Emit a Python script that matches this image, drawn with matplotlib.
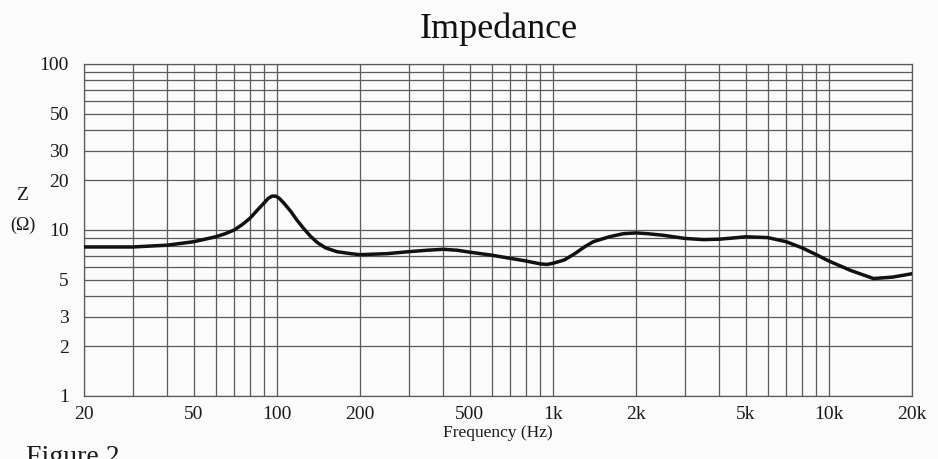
import matplotlib.pyplot as plt
from matplotlib.ticker import FixedLocator, NullFormatter

# impedance curve
freq = [20, 30, 40, 50, 60, 65, 70, 75, 80, 85, 90, 93, 96, 99, 102, 106, 112,
        118, 125, 132, 140, 150, 165, 185, 200, 250, 300, 350, 400, 450, 500,
        600, 700, 800, 900, 950, 1000, 1100, 1200, 1300, 1400, 1600, 1800,
        2000, 2200, 2500, 3000, 3500, 4000, 4500, 5000, 6000, 7000, 8000,
        9000, 10000, 12000, 14500, 17000, 20000]
imp = [7.9, 7.9, 8.1, 8.5, 9.1, 9.5, 10.0, 10.8, 11.8, 13.2, 14.6, 15.5, 16.0,
       16.0, 15.5, 14.5, 13.0, 11.5, 10.2, 9.2, 8.4, 7.8, 7.4, 7.2, 7.1, 7.2,
       7.4, 7.55, 7.65, 7.55, 7.35, 7.05, 6.75, 6.5, 6.25, 6.2, 6.3, 6.6, 7.2,
       7.9, 8.5, 9.1, 9.5, 9.6, 9.5, 9.3, 8.9, 8.75, 8.8, 8.95, 9.1, 9.0, 8.5,
       7.8, 7.1, 6.5, 5.7, 5.1, 5.2, 5.45]

xticks = [20, 50, 100, 200, 500, 1000, 2000, 5000, 10000, 20000]
xlabels = ['20', '50', '100', '200', '500', '1k', '2k', '5k', '10k', '20k']
yticks = [1, 2, 3, 5, 10, 20, 30, 50, 100]
ylabels = ['1', '2', '3', '5', '10', '20', '30', '50', '100']

xgrid = [m * d for d in (10, 100, 1000, 10000) for m in range(1, 10)
         if 20 <= m * d <= 20000]
ygrid = [m * d for d in (1, 10) for m in range(1, 10)] + [100]

plt.rcParams['font.family'] = 'Liberation Serif'
bg = '#fbfbfb'
grid_c = '#5a5a5a'

fig = plt.figure(figsize=(9.38, 4.59), dpi=100, facecolor=bg)
ax = fig.add_axes([0.0896, 0.1373, 0.8827, 0.7233], facecolor=bg)

ax.set_xscale('log')
ax.set_yscale('log')
ax.set_xlim(20, 20000)
ax.set_ylim(1, 100)

for f in xgrid:
    ax.axvline(f, color=grid_c, lw=0.9, zorder=1)
for z in ygrid:
    ax.axhline(z, color=grid_c, lw=0.9, zorder=1)

ax.plot(freq, imp, color='#111111', lw=2.5, solid_joinstyle='round',
        solid_capstyle='round', zorder=3)

ax.xaxis.set_major_locator(FixedLocator(xticks))
ax.xaxis.set_minor_locator(FixedLocator([]))
ax.xaxis.set_minor_formatter(NullFormatter())
ax.set_xticks(xticks, xlabels)
ax.yaxis.set_major_locator(FixedLocator(yticks))
ax.yaxis.set_minor_locator(FixedLocator([]))
ax.yaxis.set_minor_formatter(NullFormatter())
ax.set_yticks(yticks, ylabels)
ax.tick_params(axis='both', length=0, labelsize=14, colors='#1a1a1a')
ax.tick_params(axis='y', pad=11)
ax.tick_params(axis='x', pad=7)

for s in ax.spines.values():
    s.set_color(grid_c)
    s.set_linewidth(0.9)

ax.set_xlabel('Frequency (Hz)', fontsize=12.5, labelpad=2, color='#1a1a1a')
fig.text(0.024, 0.575, 'Z', fontsize=14, ha='center', va='center', color='#1a1a1a')
fig.text(0.024, 0.51, '(\u03a9)', fontsize=13, ha='center', va='center', color='#1a1a1a')

fig.text(0.532, 0.972, 'Impedance', fontsize=26, ha='center', va='top', color='#111111')
fig.text(0.028, 0.03, 'Figure 2', fontsize=20, ha='left', va='top', color='#1a1a1a')

plt.savefig('out.png', dpi=100, facecolor=bg)
